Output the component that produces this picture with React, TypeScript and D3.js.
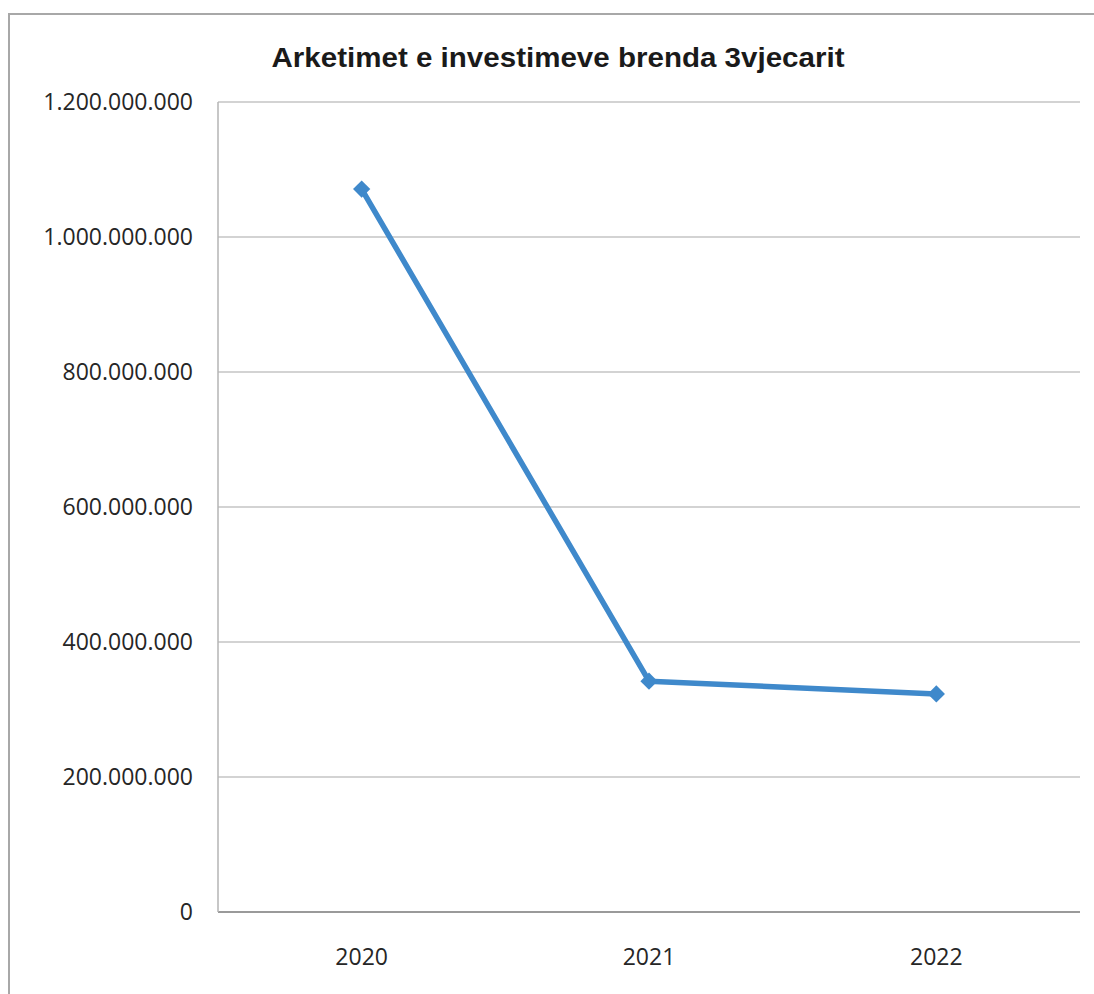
import React, { useRef, useEffect } from 'react';
import * as d3 from 'd3';

const years = ['2020', '2021', '2022'];
const receipts = [1071000000, 342000000, 323000000];
const yTicks = [0, 200000000, 400000000, 600000000, 800000000, 1000000000, 1200000000];
const title = 'Arketimet e investimeve brenda 3vjecarit';

const fmt = (v: number) => d3.format(',')(v).replace(/,/g, '.');

export default function App() {
  const ref = useRef<SVGSVGElement>(null);

  useEffect(() => {
    const svg = d3.select(ref.current);
    svg.selectAll('*').remove();

    const W = 1094;
    const H = 994;
    const left = 218;
    const right = 1080;
    const top = 102;
    const bottom = 912;

    svg.append('rect').attr('width', W).attr('height', H).attr('fill', '#fff');

    // outer frame (only left and top edges fall inside the picture)
    svg
      .append('rect')
      .attr('x', 9)
      .attr('y', 14)
      .attr('width', W + 20)
      .attr('height', H + 20)
      .attr('fill', 'none')
      .attr('stroke', '#a8a8a8')
      .attr('stroke-width', 2);

    const x = d3.scaleBand<string>().domain(years).range([left, right]);
    const y = d3.scaleLinear().domain([0, 1200000000]).range([bottom, top]);

    // grid lines
    svg
      .selectAll('.grid')
      .data(yTicks)
      .enter()
      .append('line')
      .attr('x1', left)
      .attr('x2', right)
      .attr('y1', (d) => y(d))
      .attr('y2', (d) => y(d))
      .attr('stroke', (d) => (d === 0 ? '#9a9a9a' : '#c4c4c4'))
      .attr('stroke-width', (d) => (d === 0 ? 2 : 1.5));

    svg
      .append('line')
      .attr('x1', left)
      .attr('x2', left)
      .attr('y1', top)
      .attr('y2', bottom)
      .attr('stroke', '#b4b4b4')
      .attr('stroke-width', 1.5);

    // y labels
    svg
      .selectAll('.ylab')
      .data(yTicks)
      .enter()
      .append('text')
      .attr('x', 193)
      .attr('y', (d) => y(d))
      .attr('dy', '0.36em')
      .attr('text-anchor', 'end')
      .attr('fill', '#262626')
      .attr('font-size', '23px')
      .attr('font-family', 'Open Sans, sans-serif')
      .text((d) => fmt(d));

    // x labels
    svg
      .selectAll('.xlab')
      .data(years)
      .enter()
      .append('text')
      .attr('x', (d) => x(d)! + x.bandwidth() / 2)
      .attr('y', 957)
      .attr('dy', '0.36em')
      .attr('text-anchor', 'middle')
      .attr('fill', '#262626')
      .attr('font-size', '23px')
      .attr('font-family', 'Open Sans, sans-serif')
      .text((d) => d);

    // title
    svg
      .append('text')
      .attr('x', 558)
      .attr('y', 67)
      .attr('text-anchor', 'middle')
      .attr('fill', '#1a1a1a')
      .attr('font-size', '27px')
      .attr('font-weight', 'bold')
      .attr('font-family', 'Liberation Sans, Arial, sans-serif')
      .attr('textLength', 573)
      .attr('lengthAdjust', 'spacingAndGlyphs')
      .text(title);

    const pts = years.map((yr, i) => ({ yr, v: receipts[i] }));
    const line = d3
      .line<{ yr: string; v: number }>()
      .x((d) => x(d.yr)! + x.bandwidth() / 2)
      .y((d) => y(d.v));

    svg
      .append('path')
      .datum(pts)
      .attr('d', line)
      .attr('fill', 'none')
      .attr('stroke', '#3f89cb')
      .attr('stroke-width', 5.5)
      .attr('stroke-linejoin', 'round');

    svg
      .selectAll('.pt')
      .data(pts)
      .enter()
      .append('path')
      .attr('d', d3.symbol().type(d3.symbolDiamond2).size(190)())
      .attr('transform', (d) => `translate(${x(d.yr)! + x.bandwidth() / 2},${y(d.v)})`)
      .attr('fill', '#3f89cb');
  }, []);

  return (
    <svg
      ref={ref}
      width={1094}
      height={994}
      style={{ position: 'absolute', left: 0, top: 0 }}
    />
  );
}
